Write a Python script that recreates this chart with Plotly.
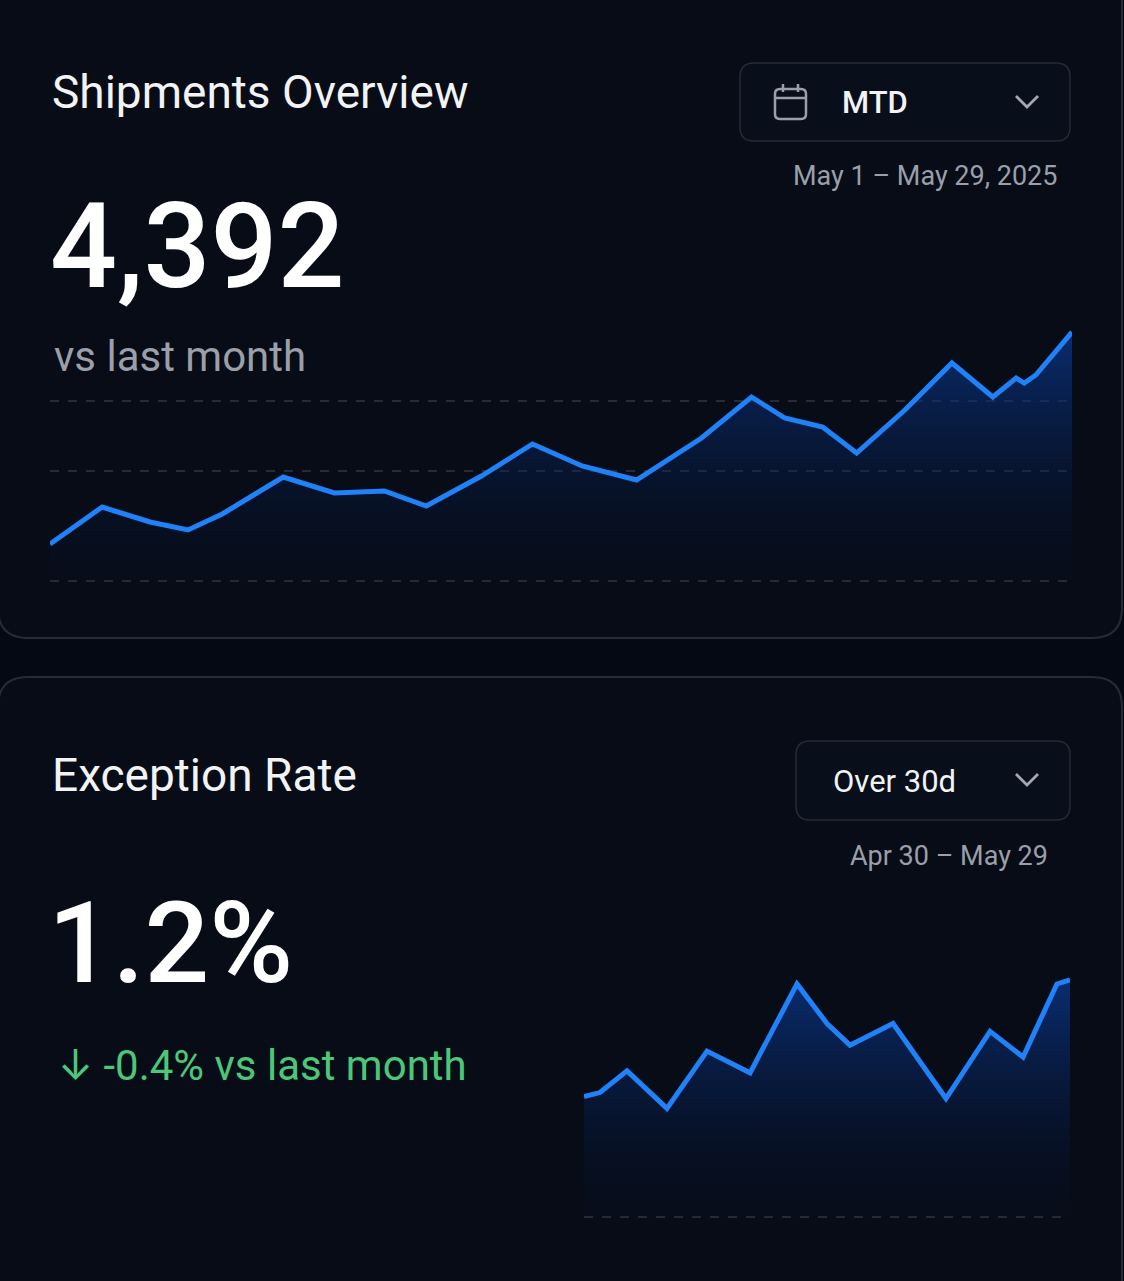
import plotly.graph_objects as go

W, H = 1124, 1281

# Shipments Overview (MTD, daily shipments)
ship_day = [1.0, 2.43, 3.74, 4.78, 5.72, 7.39, 8.79, 10.16, 11.31, 12.82, 14.22, 15.58, 17.07,
            18.85, 20.22, 21.13, 22.17, 23.10, 24.42, 25.71, 26.83, 27.47, 27.69, 28.01, 29.0]
ship_val = [37, 74, 59, 51, 67, 104, 88, 90, 75, 105, 137, 115, 101,
            143, 184, 163, 154, 128, 171, 218, 184, 203, 198, 206, 249]
ship_grid = [0, 110, 180]

# Exception Rate (over 30 days, %)
exc_day = [0, 0.95, 2.57, 4.95, 7.34, 9.91, 12.71, 14.5, 15.87, 18.44, 21.6, 24.23, 26.2, 28.22, 29]
exc_rate = [0.61, 0.63, 0.74, 0.55, 0.84, 0.73, 1.18, 0.98, 0.87, 0.98, 0.60, 0.94, 0.81, 1.18, 1.20]
exc_grid = [0]

BG = "#050913"
CARD = "#070c17"
BORDER = "#262b36"
BLUE = "#1f82f8"
GRAY = "#9a9fa9"
GREEN = "#4cc77a"
FONT = "Roboto"


def px(x):
    return x / W


def py(y):
    return 1 - y / H


def rounded_rect(x0, y0, x1, y1, r):
    # path in paper coords, corners drawn with quadratic curves
    pts = [
        ("M", (x0 + r, y0)), ("L", (x1 - r, y0)), ("Q", (x1, y0), (x1, y0 + r)),
        ("L", (x1, y1 - r)), ("Q", (x1, y1), (x1 - r, y1)),
        ("L", (x0 + r, y1)), ("Q", (x0, y1), (x0, y1 - r)),
        ("L", (x0, y0 + r)), ("Q", (x0, y0), (x0 + r, y0)),
    ]
    out = []
    for cmd, *ps in pts:
        out.append(cmd + " ".join(f"{px(a):.5f},{py(b):.5f}" for a, b in ps))
    return " ".join(out) + " Z"


def poly(points):
    return "M" + " L".join(f"{px(a):.5f},{py(b):.5f}" for a, b in points)


fig = go.Figure()

fill = dict(type="vertical", colorscale=[[0, "rgba(6,16,40,0.1)"], [1, "rgba(10,58,148,0.72)"]])

for xs, ys, xa, ya in [(ship_day, ship_val, "x", "y"), (exc_day, exc_rate, "x2", "y2")]:
    fig.add_trace(go.Scatter(x=xs, y=ys, xaxis=xa, yaxis=ya, mode="lines",
                             line=dict(color="rgba(0,0,0,0)", width=0),
                             fill="tozeroy", fillgradient=fill, hoverinfo="skip"))
    fig.add_trace(go.Scatter(x=xs, y=ys, xaxis=xa, yaxis=ya, mode="lines",
                             line=dict(color=BLUE, width=5)))

shapes = [
    dict(type="path", path=rounded_rect(-2, -30, 1122, 638, 30), xref="paper", yref="paper",
         fillcolor=CARD, line=dict(color=BORDER, width=2), layer="below"),
    dict(type="path", path=rounded_rect(-2, 677, 1122, 1330, 30), xref="paper", yref="paper",
         fillcolor=CARD, line=dict(color=BORDER, width=2), layer="below"),
    # dropdowns
    dict(type="path", path=rounded_rect(740, 63, 1070, 141, 14), xref="paper", yref="paper",
         fillcolor="#080e1a", line=dict(color=BORDER, width=1.5), layer="below"),
    dict(type="path", path=rounded_rect(796, 741, 1070, 820, 14), xref="paper", yref="paper",
         fillcolor="#080e1a", line=dict(color=BORDER, width=1.5), layer="below"),
    # calendar icon
    dict(type="path", path=rounded_rect(775, 89, 806, 119, 5), xref="paper", yref="paper",
         line=dict(color=GRAY, width=2.5)),
    dict(type="path", path=poly([(775, 98), (806, 98)]), xref="paper", yref="paper",
         line=dict(color=GRAY, width=2.5)),
    dict(type="path", path=poly([(783, 84), (783, 92)]), xref="paper", yref="paper",
         line=dict(color=GRAY, width=2.5)),
    dict(type="path", path=poly([(798, 84), (798, 92)]), xref="paper", yref="paper",
         line=dict(color=GRAY, width=2.5)),
    # chevrons
    dict(type="path", path=poly([(1016, 96), (1027, 107), (1038, 96)]), xref="paper", yref="paper",
         line=dict(color="#a3a8b2", width=2.8)),
    dict(type="path", path=poly([(1016, 774), (1027, 785), (1038, 774)]), xref="paper", yref="paper",
         line=dict(color="#a3a8b2", width=2.8)),
]

ann = [
    dict(text="Shipments Overview", x=px(50), y=py(92), xanchor="left", yanchor="middle",
         font=dict(size=46, color="#f2f3f5", weight=400)),
    dict(text="MTD", x=px(840), y=py(103), xanchor="left", yanchor="middle",
         font=dict(size=31, color="#f2f3f5", weight=500)),
    dict(text="May 1 – May 29, 2025", x=px(1059), y=py(176), xanchor="right", yanchor="middle",
         font=dict(size=27, color=GRAY)),
    dict(text="4,392", x=px(48), y=py(247), xanchor="left", yanchor="middle",
         font=dict(size=118, color="#ffffff", weight=500)),
    dict(text="vs last month", x=px(52), y=py(357), xanchor="left", yanchor="middle",
         font=dict(size=42, color=GRAY)),
    dict(text="Exception Rate", x=px(50), y=py(775), xanchor="left", yanchor="middle",
         font=dict(size=46, color="#f2f3f5", weight=400)),
    dict(text="Over 30d", x=px(831), y=py(781), xanchor="left", yanchor="middle",
         font=dict(size=31, color="#f2f3f5")),
    dict(text="Apr 30 – May 29", x=px(1050), y=py(856), xanchor="right", yanchor="middle",
         font=dict(size=27, color=GRAY)),
    dict(text="1.2%", x=px(46), y=py(943), xanchor="left", yanchor="middle",
         font=dict(size=114, color="#ffffff", weight=500)),
    dict(text="<span style='font-family:Inter'>↓</span> -0.4% vs last month",
         x=px(56), y=py(1064), xanchor="left", yanchor="middle",
         font=dict(size=42, color=GREEN)),
]
for a in ann:
    a.update(xref="paper", yref="paper", showarrow=False)
    a["font"]["family"] = FONT

grid = dict(showgrid=True, gridcolor="#262b35", griddash="dash", gridwidth=1.5,
            zeroline=False, showticklabels=False, ticks="", showline=False, fixedrange=True)
nox = dict(showgrid=False, zeroline=False, showticklabels=False, ticks="", showline=False)

fig.update_layout(
    width=W, height=H,
    margin=dict(l=0, r=0, t=0, b=0),
    paper_bgcolor=BG, plot_bgcolor="rgba(0,0,0,0)",
    showlegend=False,
    font=dict(family=FONT),
    xaxis=dict(domain=[px(50), px(1072)], range=[1, 29], **nox),
    yaxis=dict(domain=[py(586), py(325)], range=[-5, 256], tickvals=ship_grid, **grid),
    xaxis2=dict(domain=[px(584), px(1070)], range=[0, 29], anchor="y2", **nox),
    yaxis2=dict(domain=[py(1222), py(960)], range=[-5 / 197.5, 257 / 197.5], anchor="x2",
                tickvals=exc_grid, **grid),
    shapes=shapes,
    annotations=ann,
)

fig.write_html("out.html", config={"displayModeBar": False},
               post_script="document.body.style.margin='0';")
